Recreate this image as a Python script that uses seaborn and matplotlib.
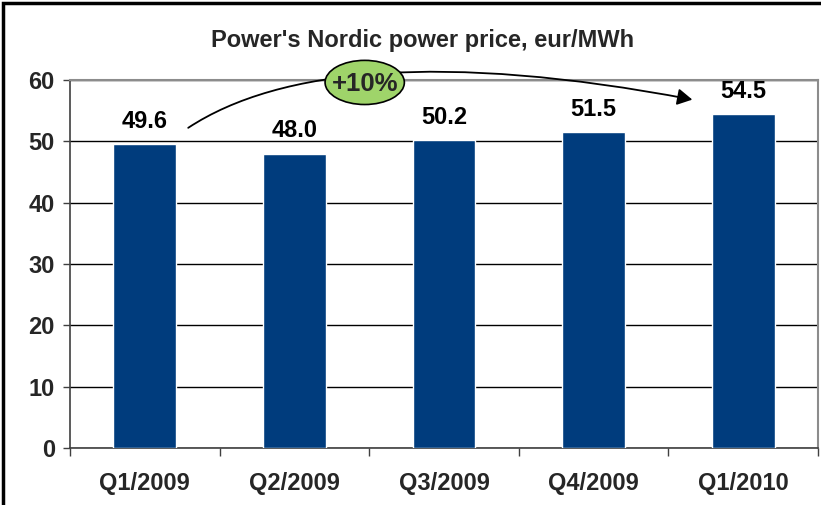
import matplotlib
matplotlib.use("Agg")
import matplotlib.pyplot as plt
import pandas as pd
import seaborn as sns
from matplotlib.patches import Ellipse, Rectangle, FancyArrowPatch
from matplotlib.path import Path

# 数据
quarters = ["Q1/2009", "Q2/2009", "Q3/2009", "Q4/2009", "Q1/2010"]
prices = [49.6, 48.0, 50.2, 51.5, 54.5]
y_ticks = [0, 10, 20, 30, 40, 50, 60]
change_label = "+10%"

df = pd.DataFrame({"quarter": quarters, "price": prices})

sns.set_theme(style="white")
plt.rcParams["font.family"] = ["Liberation Sans", "DejaVu Sans"]

fig = plt.figure(figsize=(8.21, 5.05), dpi=100)
ax = fig.add_axes([0.0853, 0.1129, 0.911, 0.7287])

sns.barplot(data=df, x="quarter", y="price", color="#003c7d", saturation=1, width=0.42, ax=ax, zorder=3)

# 数据标签
ax.bar_label(ax.containers[0], fmt="%.1f", padding=8, fontsize=17, fontweight="bold", color="black")

ax.set_ylim(0, 60)
ax.set_xlim(-0.5, 4.5)
ax.set_yticks(y_ticks)
ax.yaxis.grid(True, color="black", linewidth=1, zorder=0)
ax.set_xlabel("")
ax.set_ylabel("")

# 刻度
ax.tick_params(axis="y", which="major", left=True, length=5, width=1, color="#404040", labelsize=17, pad=6)
ax.tick_params(axis="x", which="major", bottom=False, labelsize=17, pad=11)
ax.set_xticks([i - 0.5 for i in range(len(quarters) + 1)], minor=True)
ax.tick_params(axis="x", which="minor", bottom=True, length=6, width=1, color="#404040")
for lbl in ax.get_xticklabels() + ax.get_yticklabels():
    lbl.set_fontweight("bold")

for side in ["left", "bottom"]:
    ax.spines[side].set_color("#404040")
    ax.spines[side].set_linewidth(1.2)
for side in ["top", "right"]:
    ax.spines[side].set_color("#8c8c8c")
    ax.spines[side].set_linewidth(1.5)

# 标题
fig.text(0.515, 0.92, "Power's Nordic power price, eur/MWh", ha="center", va="center",
         fontsize=17, fontweight="bold")

# 弧形箭头
arc = Path([(0.29, 52.2), (0.9, 62.0), (2.0, 64.5), (3.66, 56.8)],
           [Path.MOVETO, Path.CURVE4, Path.CURVE4, Path.CURVE4])
arrow = FancyArrowPatch(path=arc, arrowstyle="-|>,head_length=9,head_width=5", color="black",
                        lw=1.3, transform=ax.transData, clip_on=False, zorder=5)
ax.add_patch(arrow)

# 绿色椭圆 +10%
ell = Ellipse((1.47, 59.6), width=0.53, height=7.2, facecolor="#9fd46a", edgecolor="black",
              linewidth=1.2, clip_on=False, zorder=6)
ax.add_patch(ell)
ax.text(1.47, 59.3, change_label, ha="center", va="center", fontsize=18.5, fontweight="bold",
        zorder=7, clip_on=False)

# 外框
fig.patches.append(Rectangle((0.004, -0.02), 1.1, 1.014, transform=fig.transFigure,
                             fill=False, edgecolor="black", linewidth=2.5))

fig.savefig("out.png", dpi=100)
